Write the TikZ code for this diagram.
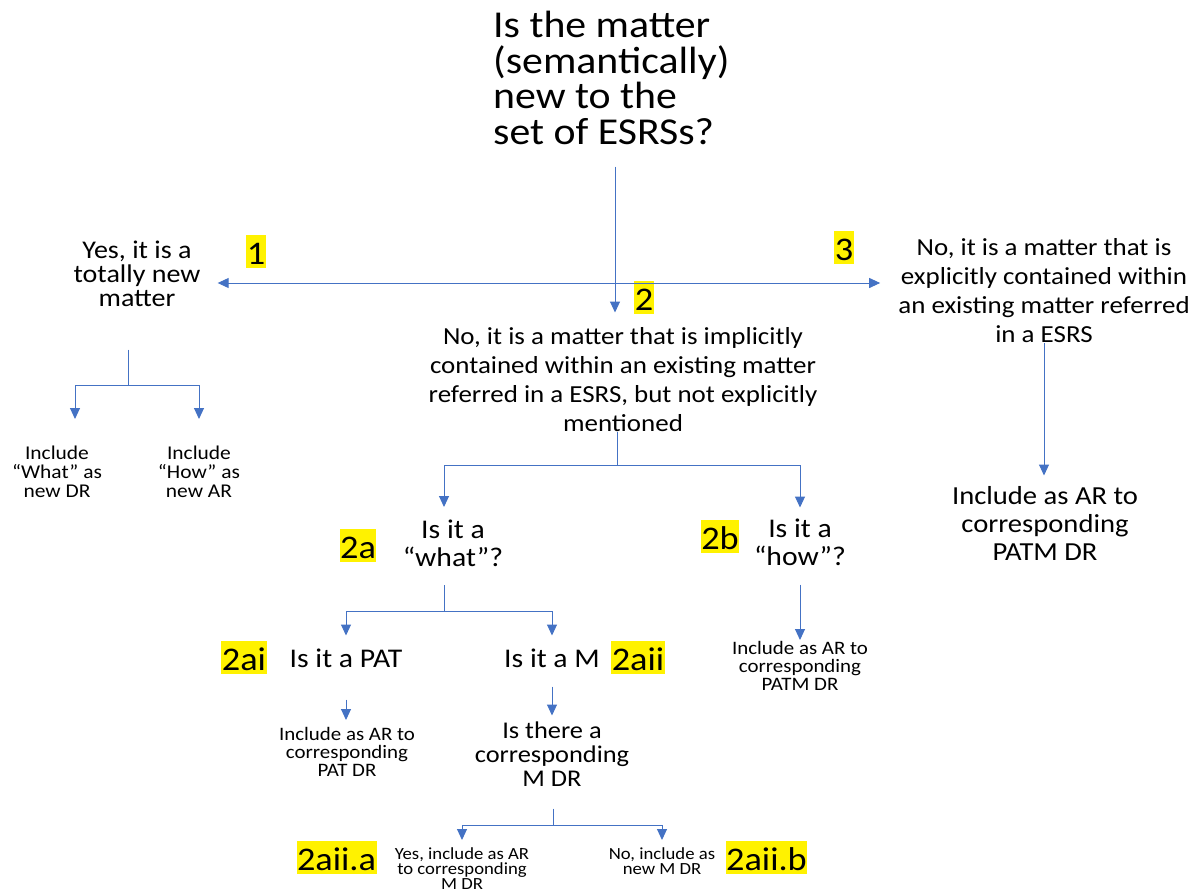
\documentclass[tikz,border=0pt]{standalone}
\usepackage{fontspec}
\setmainfont{Carlito}[FakeStretch=1.1]
\usetikzlibrary{arrows.meta,positioning,calc}
\definecolor{flowblue}{RGB}{68,114,196}
\newcommand{\txtsize}[2]{\fontsize{#1}{#2}\selectfont\lineskiplimit=-100pt\lineskip=0pt\relax}

\begin{document}
\begin{tikzpicture}[x=1pt, y=-1pt,
    arr/.style={draw=flowblue, line width=1pt, -{Triangle[width=10pt,length=11pt]}},
    tag/.style={fill=yellow, inner xsep=0.5pt, inner ysep=0pt, text height=30pt, text depth=3pt, font=\txtsize{33}{33}},
    txt/.style={align=center, inner sep=0pt, anchor=north}]
    \useasboundingbox (0, 0) rectangle (1201, 894);

    % Question
    \node[inner sep=0pt, anchor=north west, align=left, font=\txtsize{38}{35.5}] (title) at (493, 11) {Is the matter\\(semantically)\\new to the\\set of ESRSs?};

    % Three answers
    \node[txt, font=\txtsize{25.5}{24}] (yes) at (137, 240.5) {Yes, it is a\\totally new\\matter};
    \node[txt, font=\txtsize{24.5}{29}] (two) at (623, 327.5) {No, it is a matter that is implicitly\\contained within an existing matter\\referred in a ESRS, but not explicitly\\mentioned};
    \node[txt, font=\txtsize{24.5}{29}] (three) at (1044, 238.5) {No, it is a matter that is\\explicitly contained within\\an existing matter referred\\in a ESRS};

    % Branch 1
    \node[txt, font=\txtsize{19.5}{19}] (what) at (57, 446) {Include\\“What” as\\new DR};
    \node[txt, font=\txtsize{19.5}{19}] (how) at (199, 446) {Include\\“How” as\\new AR};

    % Branch 3
    \node[txt, font=\txtsize{26}{28}] (patm) at (1045, 486.5) {Include as AR to\\corresponding\\PATM DR};

    % Branch 2
    \node[txt, font=\txtsize{27}{28}] (qwhat) at (453, 520) {Is it a\\“what”?};
    \node[txt, font=\txtsize{27}{28}] (qhow) at (800, 518.5) {Is it a\\“how”?};
    \node[txt, font=\txtsize{27}{28}] (pat) at (346, 648.5) {Is it a PAT};
    \node[txt, font=\txtsize{27}{28}] (ism) at (552, 648.5) {Is it a M};
    \node[txt, font=\txtsize{19}{18}] (patdr) at (347, 727) {Include as AR to\\corresponding\\PAT DR};
    \node[txt, font=\txtsize{24}{24}] (mdr) at (552, 721.5) {Is there a\\corresponding\\M DR};
    \node[txt, font=\txtsize{19}{18}] (howdr) at (800, 641) {Include as AR to\\corresponding\\PATM DR};
    \node[txt, font=\txtsize{17}{15}] (yesm) at (462, 847) {Yes, include as AR\\to corresponding\\M DR};
    \node[txt, font=\txtsize{17}{15}] (nom) at (662, 847) {No, include as\\new M DR};

    % Tags
    \node[tag] (t1) at (256, 251) {1};
    \node[tag] (t2) at (644, 297) {2};
    \node[tag] (t3) at (844, 247) {3};
    \node[tag] (t2a) at (358, 545) {2a};
    \node[tag] (t2b) at (720, 536) {2b};
    \node[tag] (t2ai) at (244, 657) {2ai};
    \node[tag] (t2aii) at (638, 657) {2aii};
    \node[tag] (t2aiia) at (336.5, 857) {2aii.a};
    \node[tag] (t2aiib) at (766.5, 857) {2aii.b};

    % Top split
    \coordinate (hub) at (615, 283);
    \draw[arr, shorten <=22pt, shorten >=15pt] (title.south -| hub) -- (two.north -| hub);
    \draw[arr] (hub) -- ($(yes.east |- hub)+(17,0)$);
    \draw[arr] (hub) -- ($(three.west |- hub)+(-18,0)$);

    % Split under 1
    \coordinate (ys) at (128, 385);
    \draw[arr, shorten <=43pt, shorten >=27pt] (yes.south -| ys) -- (ys) -| ($(what.north)+(18,0)$);
    \draw[arr, shorten >=27pt] (ys) -| (how.north);

    % Split under 2
    \coordinate (ts) at (617, 465);
    \draw[arr, shorten >=13pt] (two.south -| ts) -- (ts) -| ($(qwhat.north)+(-9,0)$);
    \draw[arr, shorten >=11pt] (ts) -| (qhow.north);

    % Split under 2a
    \coordinate (ws) at (444, 611);
    \draw[arr, shorten <=18pt, shorten >=13pt] (qwhat.south -| ws) -- (ws) -| (pat.north);
    \draw[arr, shorten >=13pt] (ws) -| (ism.north);

    % Single steps
    \draw[arr, shorten <=32pt, shorten >=7pt] (pat.south) -- (pat.south |- patdr.north);
    \draw[arr, shorten <=19pt, shorten >=6pt] (ism.south) -- (ism.south |- mdr.north);
    \draw[arr, shorten <=19pt, shorten >=1pt] (qhow.south) -- (qhow.south |- howdr.north);
    \draw[arr, shorten >=11pt] (three.south) -- (three.south |- patm.north);

    % Split under 2aii
    \coordinate (ms) at (553, 825);
    \draw[arr, shorten <=22pt, shorten >=7pt] (mdr.south -| ms) -- (ms) -| (yesm.north);
    \draw[arr, shorten >=7pt] (ms) -| (nom.north);
\end{tikzpicture}
\end{document}
